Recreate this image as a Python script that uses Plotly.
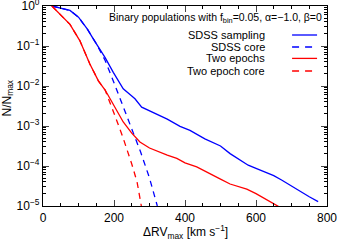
import plotly.graph_objects as go

# SDSS sampling (blue solid)
sdss_x = [25, 50, 76, 100, 114, 125, 142, 150, 175, 198, 200, 226, 250, 259, 278, 300, 339, 350, 386, 414, 456, 500, 527, 550, 578, 600, 625, 650, 672, 700, 724, 750, 775]
sdss_log = [0, -0.05, -0.11, -0.28, -0.44, -0.58, -0.83, -0.94, -1.29, -1.66, -1.69, -2.07, -2.25, -2.32, -2.53, -2.62, -2.78, -2.83, -3.01, -3.11, -3.32, -3.5, -3.69, -3.82, -3.98, -4.06, -4.15, -4.24, -4.35, -4.5, -4.64, -4.77, -4.89]
# SDSS core (blue dashed)
core_x = [25, 50, 76, 100, 125, 150, 175, 200, 225, 250, 275, 300, 322]
core_log = [0, -0.05, -0.11, -0.28, -0.58, -0.94, -1.36, -1.92, -2.5, -3.06, -3.65, -4.3, -5.0]
# Two epochs (red solid)
two_x = [25, 50, 76, 104, 132, 156, 175, 189, 200, 226, 250, 273, 300, 330, 350, 377, 400, 433, 450, 480, 500, 527, 550, 574, 600, 620, 645, 665]
two_log = [0, -0.22, -0.46, -0.87, -1.45, -1.87, -2.1, -2.32, -2.5, -2.9, -3.18, -3.4, -3.55, -3.67, -3.73, -3.81, -3.92, -4.02, -4.1, -4.25, -4.33, -4.45, -4.51, -4.58, -4.69, -4.79, -4.91, -5.02]
# Two epoch core (red dashed)
twocore_x = [25, 50, 76, 104, 132, 156, 175, 200, 225, 250, 265, 277]
twocore_log = [0, -0.22, -0.46, -0.87, -1.45, -1.87, -2.1, -2.68, -3.28, -3.95, -4.4, -5.0]

xtick_vals = [0, 200, 400, 600, 800]
ytick_vals = [1, 0.1, 0.01, 1e-3, 1e-4, 1e-5]
ytick_text = ["10<sup>0</sup>", "10<sup>−1</sup>", "10<sup>−2</sup>", "10<sup>−3</sup>", "10<sup>−4</sup>", "10<sup>−5</sup>"]
legend_names = ["SDSS sampling", "SDSS core", "Two epochs", "Two epoch core"]
legend_colors = ["#0000ff", "#0000ff", "#ff0000", "#ff0000"]
legend_dash = ["solid", "dash", "solid", "dash"]

fig = go.Figure()
series = [(sdss_x, sdss_log), (core_x, core_log), (two_x, two_log), (twocore_x, twocore_log)]
for (xs, ls), name, c, d in zip(series, legend_names, legend_colors, legend_dash):
    fig.add_trace(go.Scatter(x=xs, y=[10 ** v for v in ls], mode="lines", name=name,
                             line=dict(color=c, width=1.3, dash="6px,5px" if d == "dash" else "solid"),
                             showlegend=False, cliponaxis=True))

minor_y = []
for e in range(-5, 0):
    for m in range(2, 10):
        minor_y.append(m * 10 ** e)

font = "Liberation Sans, Arial, sans-serif"
fig.update_layout(
    width=337, height=240,
    margin=dict(l=43, r=10, t=6, b=34, autoexpand=False),
    plot_bgcolor="white", paper_bgcolor="white",
    font=dict(family=font, size=12, color="black"),
    xaxis=dict(range=[0, 800], tickvals=xtick_vals, ticks="inside", ticklen=6, automargin=False,
               tickwidth=1, mirror="ticks", showline=True, linecolor="black", linewidth=1.2,
               showgrid=False, zeroline=False, tickfont=dict(size=12), ticklabeloverflow="allow",
               minor=dict(tickvals=list(range(50, 800, 50)), ticks="inside", ticklen=3, tickcolor="black", showgrid=False)),
    yaxis=dict(type="log", range=[-5, 0], tickvals=ytick_vals, ticktext=ytick_text, ticks="inside", automargin=False,
               ticklen=6, tickwidth=1, mirror="ticks", showline=True, linecolor="black", linewidth=1.2,
               showgrid=False, zeroline=False, tickfont=dict(size=12), ticklabeloverflow="allow",
               minor=dict(tickvals=minor_y, ticks="inside", ticklen=3, tickcolor="black", showgrid=False)),
)

fig.add_annotation(x=0.5, y=-0.128, xref="paper", yref="paper", xanchor="center", yanchor="middle",
                   text="ΔRV<sub>max</sub> [km s<sup>−1</sup>]", showarrow=False, font=dict(size=12))
fig.add_annotation(x=-0.125, y=0.54, xref="paper", yref="paper", xanchor="center", yanchor="middle",
                   text="N/N<sub>max</sub>", textangle=-90, showarrow=False, font=dict(size=12))
fig.add_annotation(x=0.99, y=0.94, xref="paper", yref="paper", xanchor="right", yanchor="middle",
                   text="Binary populations with f<sub>bin</sub>=0.05, α=−1.0, β=0",
                   showarrow=False, font=dict(size=10.5))
row_y = [0.855, 0.795, 0.738, 0.675]
for name, c, d, yy in zip(legend_names, legend_colors, legend_dash, row_y):
    fig.add_annotation(x=0.79, y=yy, xref="paper", yref="paper", xanchor="right", yanchor="middle",
                       text=name, showarrow=False, font=dict(size=11))
    fig.add_shape(type="line", xref="paper", yref="paper", x0=0.877, x1=0.965, y0=yy, y1=yy,
                  line=dict(color=c, width=1.3, dash="7px,6px" if d == "dash" else "solid"))

fig.write_html("out.html", config={"displayModeBar": False},
               post_script="document.body.style.margin='0';document.body.style.overflow='hidden';")
